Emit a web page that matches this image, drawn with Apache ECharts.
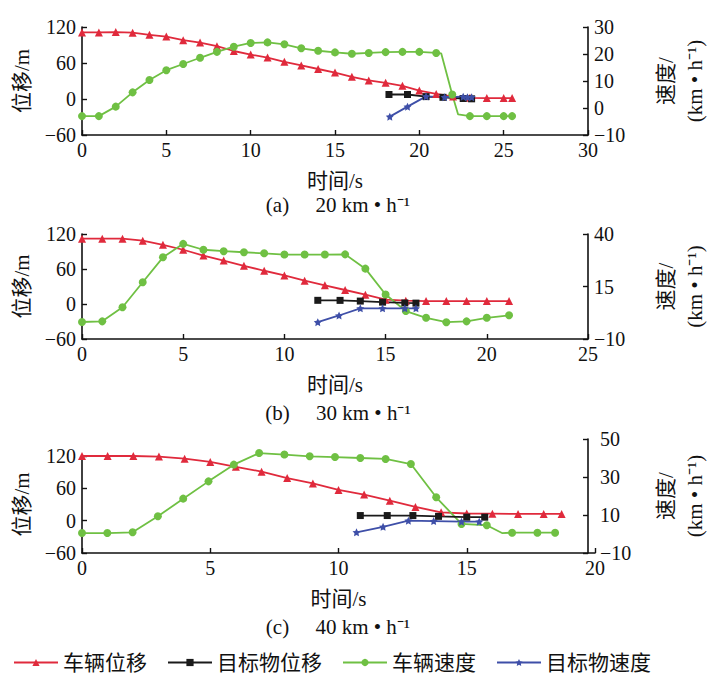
<!DOCTYPE html>
<html><head><meta charset="utf-8">
<script src="https://cdn.jsdelivr.net/npm/echarts@6/dist/echarts.min.js"></script>
<style>html,body{margin:0;padding:0;background:#fff}#c{width:717px;height:679px}</style>
</head><body><div id="c"></div>
<script>
// ---------- Panel (a) 20 km/h ----------
const aVehDisp = [[0,111],[1,111],[2,111.5],[3,110.5],[4,107],[5,104],[6,98],[7,94],[8,88],[9,80],[10,74],[11,69],[12,62],[13,56],[14,50],[15,44],[16,37],[17,31],[18,27],[19,22],[20,14],[21,8.5],[22,4],[23,2],[24,1.5],[25,1.5],[25.5,1.5]];
const aTgtDisp = [[18.2,7.5],[19.3,7.5],[20.4,4],[21.4,2.8],[22.6,0.8],[23.1,0.3]];
const aVehSpeed = [[0,-3],[1,-3],[2,0.5],[3,5.8],[4,10.4],[5,14],[6,16.3],[7,18.6],[8,20.8],[9,22.7],[10,24.1],[11,24.3],[12,23.6],[13,22.1],[14,21.2],[15,20.6],[16,20.1],[17,20.4],[18,20.7],[19,20.8],[20,20.8],[21,20.4],[21.3,20.2],[21.95,5],[22.3,-2.4],[23,-3],[24,-3],[25,-3],[25.5,-3]];
const aVehSpeedUnmarked = [21.3, 22.3];
const aTgtSpeed = [[18.25,-3.2],[19.3,0.5],[20.4,4.3],[21.5,4.0],[22.6,4.2],[22.85,4.0],[23.1,4.0]];
// ---------- Panel (b) 30 km/h ----------
const bVehDisp = [[0,112],[1,112],[2,112],[3,108.5],[4,101.5],[5,93],[6,83],[7,74.5],[8,65.5],[9,57],[10,49],[11,40],[12,32],[13,24],[14,16],[15,7.5],[16,5.7],[17,5],[18,5],[19,5],[20,5],[21.1,5]];
const bTgtDisp = [[11.65,6.3],[12.75,6.2],[13.75,5],[14.85,3.2],[15.95,1.8],[16.5,1.5]];
const bVehSpeed = [[0,-1.9],[1,-1.6],[2,5.1],[3,17],[4,28.9],[5,35.3],[6,32.5],[7,31.8],[8,31.3],[9,30.8],[10,30.2],[11,30.2],[12,30.2],[13,30.3],[14,23.5],[15,11.2],[16,3.3],[17,0.1],[18,-2],[19,-1.6],[20,0.1],[21.1,1.3]];
const bTgtSpeed = [[11.65,-2],[12.7,1.2],[13.75,4.6],[14.85,4.6],[15.95,4.6],[16.5,4.6]];
// ---------- Panel (c) 40 km/h ----------
const cVehDisp = [[0,120],[1,120],[2,120],[3,119],[4,115],[5,109],[6,100],[7,91],[8,79],[9,69],[10,57],[11,48.5],[12,37],[13,25.5],[14,15.5],[15,13.3],[16,13],[17,12.5],[18,12.5],[18.7,12.5]];
const cTgtDisp = [[10.85,9.5],[11.9,9.5],[12.9,9.5],[13.9,8],[15,6.5],[15.7,6.5]];
const cVehSpeed = [[0,0.5],[1,0.5],[2,0.9],[3,9.3],[4,18.6],[5,27.7],[6,36.5],[7,42.6],[8,41.8],[9,40.9],[10,40.5],[11,40],[12,39.5],[13,36.8],[14,19.3],[15,5.3],[16,4.6],[16.6,0.5],[17,0.7],[18,0.7],[18.7,0.7]];
const cVehSpeedUnmarked = [16.6];
const cTgtSpeed = [[10.85,0.9],[11.9,3.8],[12.9,7],[13.9,6.8],[15,6.5],[15.7,6.5]];
// ---------- axes / labels ----------
const timeMax = [30, 25, 20];
const aSpeedTicks = [-10, 0, 10, 20, 30];
const bSpeedTicks = [-10, 15, 40];
const cSpeedTicks = [-10, 10, 30, 50];
const captions = ['(a)\u2003 20 km \u2022 h\u207B\u00B9', '(b)\u2003 30 km \u2022 h\u207B\u00B9', '(c)\u2003 40 km \u2022 h\u207B\u00B9'];
const legendNames = ['车辆位移', '目标物位移', '车辆速度', '目标物速度'];

const FONT = '"Liberation Serif", "Noto Sans CJK SC", serif';
const COL = {red: '#e02a3c', black: '#1a1a1a', green: '#6fc043', blue: '#3e4fa8'};
const STAR = 'path://M0,-10L2.9,-4L9.5,-3.1L4.8,1.5L5.9,8.1L0,5L-5.9,8.1L-4.8,1.5L-9.5,-3.1L-2.9,-4Z';
const SYM = ['triangle', 'rect', 'circle', STAR];
const minus = v => (v < 0 ? '\u2212' + Math.abs(v) : String(v));

const grids = [
  {left: 82, width: 513, top: 27, height: 108},
  {left: 82, width: 513, top: 234, height: 105},
  {left: 82, width: 513, top: 456, height: 97},
  {left: 82, width: 513, top: 439, height: 114}
];

function xAx(g, max, show) {
  return {
    type: 'value', gridIndex: g, min: 0, max: max, interval: 5, show: show !== false,
    name: '时间/s', nameLocation: 'middle', nameGap: 35,
    nameTextStyle: {fontFamily: FONT, fontSize: 21, color: '#111'},
    axisLine: {onZero: false, lineStyle: {color: '#111', width: 1.6}},
    axisTick: {inside: true, length: 5, lineStyle: {color: '#111', width: 1.4}},
    axisLabel: {fontFamily: FONT, fontSize: 20, color: '#111', margin: 5},
    splitLine: {show: false}
  };
}
function yLeft(g) {
  return {
    type: 'value', gridIndex: g, position: 'left', min: -60, max: 120, interval: 60,
    name: '位移/m', nameLocation: 'middle', nameGap: 50, nameRotate: 90,
    nameTextStyle: {fontFamily: FONT, fontSize: 21, color: '#111'},
    axisLine: {show: true, onZero: false, lineStyle: {color: '#111', width: 1.6}},
    axisTick: {show: true, inside: true, length: 5, lineStyle: {color: '#111', width: 1.4}},
    axisLabel: {fontFamily: FONT, fontSize: 20, color: '#111', margin: 6, formatter: minus},
    splitLine: {show: false}
  };
}
function yRight(g, ticks, margin) {
  return {
    type: 'value', gridIndex: g, position: 'right', min: ticks[0], max: ticks[ticks.length - 1],
    name: '速度/\n(km \u2022 h\u207B\u00B9)', nameLocation: 'middle', nameGap: 63, nameRotate: 90,
    nameTextStyle: {fontFamily: FONT, fontSize: 21, color: '#111', lineHeight: 29},
    axisLine: {show: true, onZero: false, lineStyle: {color: '#111', width: 1.6}},
    axisTick: {show: true, inside: true, length: 5, customValues: ticks, lineStyle: {color: '#111', width: 1.4}},
    axisLabel: {fontFamily: FONT, fontSize: 20, color: '#111', margin: margin, formatter: minus, customValues: ticks},
    splitLine: {show: false}
  };
}

function ser(k, data, xi, yi, color, size, unmarked) {
  const um = unmarked || [];
  return {
    type: 'line', name: legendNames[k], xAxisIndex: xi, yAxisIndex: yi,
    data: data.map(p => (um.indexOf(p[0]) >= 0 ? {value: p, symbol: 'none'} : p)),
    symbol: SYM[k], symbolSize: size, showSymbol: true, clip: false, animation: false,
    lineStyle: {color: color, width: 1.8}, itemStyle: {color: color}, z: 3
  };
}

const series = [
  // (a)
  ser(0, aVehDisp, 0, 0, COL.red, 8),
  ser(2, aVehSpeed, 0, 1, COL.green, 8, aVehSpeedUnmarked),
  ser(1, aTgtDisp, 0, 0, COL.black, 7),
  ser(3, aTgtSpeed, 0, 1, COL.blue, 8),
  // (b)
  ser(0, bVehDisp, 1, 2, COL.red, 8),
  ser(2, bVehSpeed, 1, 3, COL.green, 8),
  ser(1, bTgtDisp, 1, 2, COL.black, 7),
  ser(3, bTgtSpeed, 1, 3, COL.blue, 8),
  // (c)
  ser(0, cVehDisp, 2, 4, COL.red, 8),
  ser(2, cVehSpeed, 3, 5, COL.green, 8, cVehSpeedUnmarked),
  ser(1, cTgtDisp, 2, 4, COL.black, 7),
  ser(3, cTgtSpeed, 3, 5, COL.blue, 8)
];

const captionY = [205, 413, 627];
const graphic = captions.map((t, i) => ({
  type: 'text', x: 338, y: captionY[i], z: 10,
  style: {text: t, fontFamily: FONT, fontSize: 21, fill: '#111', textAlign: 'center', textVerticalAlign: 'middle'}
}));

const chart = echarts.init(document.getElementById('c'), null, {renderer: 'svg'});
chart.setOption({
  animation: false,
  backgroundColor: '#fff',
  grid: grids,
  xAxis: [xAx(0, timeMax[0]), xAx(1, timeMax[1]), xAx(2, timeMax[2]), xAx(3, timeMax[2], false)],
  yAxis: [yLeft(0), yRight(0, aSpeedTicks, 6), yLeft(1), yRight(1, bSpeedTicks, 6), yLeft(2), yRight(3, cSpeedTicks, 12)],
  legend: {
    data: legendNames.slice(),
    left: 8, top: 647, itemWidth: 44, itemHeight: 9, itemGap: 20,
    textStyle: {fontFamily: FONT, fontSize: 21, color: '#111'}
  },
  graphic: graphic,
  series: series
});
</script></body></html>
